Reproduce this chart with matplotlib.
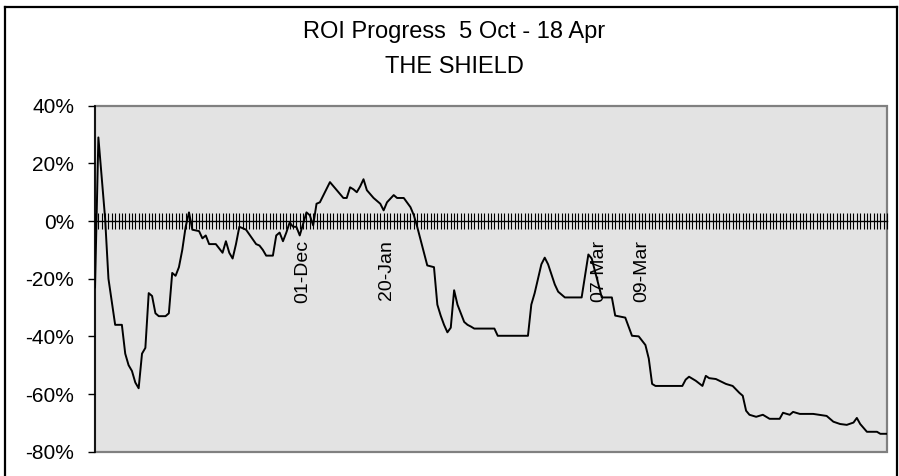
import matplotlib
matplotlib.use('Agg')
import matplotlib.pyplot as plt
from matplotlib.lines import Line2D
from matplotlib.patches import Rectangle


# category position of each traced vertex and ROI (%) at that point
idx = [0, 1, 2, 3, 4, 5, 6, 8, 9, 10, 11, 12, 13, 14, 15, 16, 17, 18, 19, 21,
       22, 23, 24, 25, 26, 27, 28, 29, 31, 32, 33, 34, 36, 38, 39, 40, 41, 42,
       43, 45, 48, 49, 50, 51, 53, 54, 55, 56, 57, 58, 59, 60, 61, 62, 63, 64,
       65, 66, 67, 70, 74, 75, 76, 77, 78, 79, 80, 81, 83, 85, 86, 87, 89, 90,
       92, 94, 95, 96, 98, 99, 101, 102, 103, 104, 105, 106, 107, 108, 110,
       111, 112, 113, 119, 120, 129, 130, 131, 132, 133, 134, 135, 137, 138,
       140, 145, 147, 148, 151, 154, 155, 158, 160, 162, 164, 165, 166, 167,
       175, 176, 177, 179, 181, 182, 183, 185, 188, 190, 192, 193, 194, 195,
       197, 199, 201, 204, 205, 207, 208, 210, 214, 218, 220, 222, 224, 226,
       227, 228, 230, 233, 234, 236]
roi = [-23, 29, 15, 1, -20, -28, -36, -36, -46, -50, -52, -56, -58, -46, -44,
       -25, -26, -32, -33, -33, -32, -18, -19, -16, -10, -2, 3, -3, -3.5, -6,
       -5, -8, -8, -11, -7, -11, -13, -8, -2, -3, -8, -8.5, -10, -12, -12, -5,
       -4, -7, -4, -0.5, -2, -2, -5, -1, 3, 2, -1.5, 6, 6.5, 13.5, 8, 8, 11.7,
       11, 10, 12, 14.5, 10.7, 8, 6, 3.7, 6.5, 9, 8, 8, 4.8, 2, -2, -11, -15.4,
       -16, -29, -32.8, -36, -38.6, -37, -24, -29, -35, -36, -36.6, -37.3,
       -37.3, -39.8, -39.8, -29, -25, -20, -15, -12.7, -15, -22, -24.5, -26.5,
       -26.5, -11.6, -13, -26.5, -26.5, -32.8, -33.5, -39.8, -40, -43, -47.7,
       -56.5, -57.2, -57.2, -55, -54, -55.4, -57.2, -53.7, -54.5, -54.8, -56.5,
       -57.2, -59.6, -60.6, -65.8, -67.2, -67.9, -67.2, -68.6, -68.6, -66.5,
       -67.2, -66.2, -66.9, -66.9, -67.6, -69.6, -70.4, -70.7, -69.9, -68.3,
       -70.4, -73.1, -73.1, -73.8, -73.8]

n_cat = 237
date_pos = [62, 87, 150, 163]
date_labels = ['01-Dec', '20-Jan', '07-Mar', '09-Mar']
y_ticks = [-80, -60, -40, -20, 0, 20, 40]

plt.rcParams['font.family'] = ['Liberation Sans', 'DejaVu Sans']

fig = plt.figure(figsize=(8.99, 4.76), dpi=100)
ax = fig.add_axes([0.1057, 0.0511, 0.881, 0.7268])
ax.set_facecolor('#e3e3e3')

ax.plot(idx, roi, color='black', lw=1.4, zorder=3)

ax.set_xlim(0, n_cat - 1)
ax.set_ylim(-80, 40)

# category axis sits on the 0% line
for side in ['top', 'right']:
    ax.spines[side].set_visible(False)
ax.spines['bottom'].set_position(('data', 0))
ax.spines['bottom'].set_linewidth(1.0)
ax.spines['left'].set_linewidth(1.2)

labels = [''] * n_cat
for p, lab in zip(date_pos, date_labels):
    labels[p] = lab
ax.set_xticks(range(n_cat))
ax.set_xticklabels(labels, rotation=90, fontsize=14)
ax.tick_params(axis='x', direction='inout', length=11.5, width=0.8, pad=8)

ax.set_yticks(y_ticks)
ax.set_yticklabels([f'{v}%' for v in y_ticks], fontsize=15)
ax.tick_params(axis='y', direction='out', length=5, width=1, pad=10)

# grey plot area border
ax.add_patch(Rectangle((0, 0), 1, 1, transform=ax.transAxes, fill=False,
                       edgecolor='#808080', lw=1.6, clip_on=False, zorder=1))

fig.text(0.505, 0.933, 'ROI Progress  5 Oct - 18 Apr', ha='center', va='center', fontsize=17)
fig.text(0.505, 0.859, 'THE SHIELD', ha='center', va='center', fontsize=17)

# chart frame
fig.add_artist(Line2D([0.0056, 0.0056], [0, 0.985], color='black', lw=1.6))
fig.add_artist(Line2D([0.998, 0.998], [0, 0.985], color='black', lw=1.6))
fig.add_artist(Line2D([0.0056, 0.998], [0.985, 0.985], color='black', lw=1.6))

fig.savefig('out.png', dpi=100)
